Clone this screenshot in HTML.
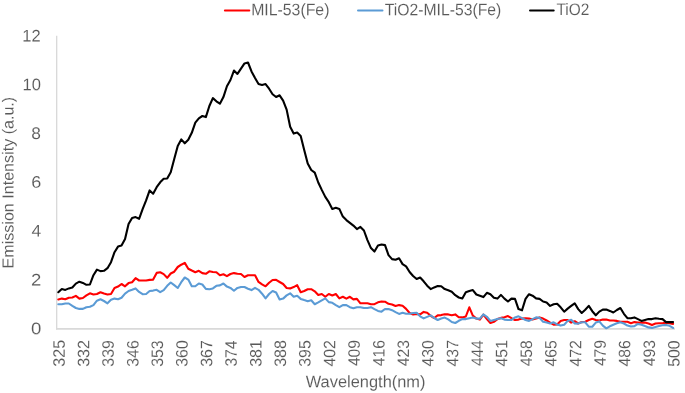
<!DOCTYPE html>
<html><head><meta charset="utf-8"><title>Chart</title>
<style>html,body{margin:0;padding:0;background:#fff;}body{width:685px;height:393px;overflow:hidden;font-family:"Liberation Sans",sans-serif;}svg{display:block;will-change:transform;}text{font-family:"Liberation Sans",sans-serif;fill:#595959;text-rendering:geometricPrecision;stroke:#ffffff;stroke-width:0.1px;}</style></head><body>
<svg width="685" height="393" viewBox="0 0 685 393">
<rect width="685" height="393" fill="#ffffff"/>
<line x1="56.67" y1="35.8" x2="56.67" y2="329.57" stroke="#d9d9d9" stroke-width="1.33"/>
<line x1="56.01" y1="328.85" x2="674.96" y2="328.85" stroke="#d9d9d9" stroke-width="1.6"/>
<text transform="translate(251.13,15.25) rotate(0.03)" font-size="16.6" textLength="78.28" lengthAdjust="spacingAndGlyphs">MIL-53(Fe)</text>
<text transform="translate(384.76,15.25) rotate(0.03)" font-size="16.6" textLength="116.51" lengthAdjust="spacingAndGlyphs">TiO2-MIL-53(Fe)</text>
<text transform="translate(556.50,15.25) rotate(0.03)" font-size="16.6" textLength="32.90" lengthAdjust="spacingAndGlyphs">TiO2</text>
<text transform="translate(305.72,387.15) rotate(0.03)" font-size="16.6" textLength="119.76" lengthAdjust="spacingAndGlyphs">Wavelength(nm)</text>
<text transform="translate(31.09,334.22) rotate(0.03)" font-size="16.8" textLength="10.33" lengthAdjust="spacingAndGlyphs">0</text>
<text transform="translate(30.99,285.42) rotate(0.03)" font-size="16.8" textLength="10.32" lengthAdjust="spacingAndGlyphs">2</text>
<text transform="translate(31.39,236.62) rotate(0.03)" font-size="16.8" textLength="9.70" lengthAdjust="spacingAndGlyphs">4</text>
<text transform="translate(31.30,187.82) rotate(0.03)" font-size="16.8" textLength="10.04" lengthAdjust="spacingAndGlyphs">6</text>
<text transform="translate(31.32,139.02) rotate(0.03)" font-size="16.8" textLength="9.65" lengthAdjust="spacingAndGlyphs">8</text>
<text transform="translate(22.51,90.22) rotate(0.03)" font-size="16.8" textLength="18.41" lengthAdjust="spacingAndGlyphs">10</text>
<text transform="translate(22.26,41.42) rotate(0.03)" font-size="16.8" textLength="18.37" lengthAdjust="spacingAndGlyphs">12</text>
<text transform="translate(64.65,366.65) rotate(-89.97)" font-size="16.6" textLength="26.91" lengthAdjust="spacingAndGlyphs">325</text>
<text transform="translate(89.25,366.87) rotate(-89.97)" font-size="16.6" textLength="26.96" lengthAdjust="spacingAndGlyphs">332</text>
<text transform="translate(113.84,366.64) rotate(-89.97)" font-size="16.6" textLength="26.57" lengthAdjust="spacingAndGlyphs">339</text>
<text transform="translate(138.44,366.81) rotate(-89.97)" font-size="16.6" textLength="26.55" lengthAdjust="spacingAndGlyphs">346</text>
<text transform="translate(163.03,366.80) rotate(-89.97)" font-size="16.6" textLength="26.50" lengthAdjust="spacingAndGlyphs">353</text>
<text transform="translate(187.62,366.81) rotate(-89.97)" font-size="16.6" textLength="26.58" lengthAdjust="spacingAndGlyphs">360</text>
<text transform="translate(212.22,366.87) rotate(-89.97)" font-size="16.6" textLength="26.74" lengthAdjust="spacingAndGlyphs">367</text>
<text transform="translate(236.81,366.62) rotate(-89.97)" font-size="16.6" textLength="26.12" lengthAdjust="spacingAndGlyphs">374</text>
<text transform="translate(261.41,366.82) rotate(-89.97)" font-size="16.6" textLength="26.79" lengthAdjust="spacingAndGlyphs">381</text>
<text transform="translate(286.00,366.81) rotate(-89.97)" font-size="16.6" textLength="26.73" lengthAdjust="spacingAndGlyphs">388</text>
<text transform="translate(310.60,366.81) rotate(-89.97)" font-size="16.6" textLength="26.55" lengthAdjust="spacingAndGlyphs">395</text>
<text transform="translate(335.19,366.43) rotate(-89.97)" font-size="16.6" textLength="26.33" lengthAdjust="spacingAndGlyphs">402</text>
<text transform="translate(359.79,366.08) rotate(-89.97)" font-size="16.6" textLength="26.10" lengthAdjust="spacingAndGlyphs">409</text>
<text transform="translate(384.38,366.35) rotate(-89.97)" font-size="16.6" textLength="26.31" lengthAdjust="spacingAndGlyphs">416</text>
<text transform="translate(408.98,366.30) rotate(-89.97)" font-size="16.6" textLength="26.16" lengthAdjust="spacingAndGlyphs">423</text>
<text transform="translate(433.57,366.42) rotate(-89.97)" font-size="16.6" textLength="26.26" lengthAdjust="spacingAndGlyphs">430</text>
<text transform="translate(458.17,366.43) rotate(-89.97)" font-size="16.6" textLength="26.34" lengthAdjust="spacingAndGlyphs">437</text>
<text transform="translate(482.76,366.11) rotate(-89.97)" font-size="16.6" textLength="25.79" lengthAdjust="spacingAndGlyphs">444</text>
<text transform="translate(507.36,366.44) rotate(-89.97)" font-size="16.6" textLength="26.40" lengthAdjust="spacingAndGlyphs">451</text>
<text transform="translate(531.95,366.30) rotate(-89.97)" font-size="16.6" textLength="26.01" lengthAdjust="spacingAndGlyphs">458</text>
<text transform="translate(556.55,366.48) rotate(-89.97)" font-size="16.6" textLength="26.16" lengthAdjust="spacingAndGlyphs">465</text>
<text transform="translate(581.14,366.43) rotate(-89.97)" font-size="16.6" textLength="26.33" lengthAdjust="spacingAndGlyphs">472</text>
<text transform="translate(605.74,366.08) rotate(-89.97)" font-size="16.6" textLength="26.10" lengthAdjust="spacingAndGlyphs">479</text>
<text transform="translate(630.33,366.43) rotate(-89.97)" font-size="16.6" textLength="26.27" lengthAdjust="spacingAndGlyphs">486</text>
<text transform="translate(654.93,366.30) rotate(-89.97)" font-size="16.6" textLength="26.16" lengthAdjust="spacingAndGlyphs">493</text>
<text transform="translate(679.52,366.83) rotate(-89.97)" font-size="16.6" textLength="26.53" lengthAdjust="spacingAndGlyphs">500</text>
<text transform="translate(13.50,268.47) rotate(-89.97)" font-size="16.0" textLength="171.67" lengthAdjust="spacingAndGlyphs">Emission Intensity (a.u.)</text>
<line x1="224.9" y1="10.45" x2="249.3" y2="10.45" stroke="#ff0000" stroke-width="2" stroke-linecap="round"/>
<line x1="358.0" y1="10.45" x2="382.5" y2="10.45" stroke="#5b9bd5" stroke-width="2" stroke-linecap="round"/>
<line x1="530.0" y1="10.45" x2="553.7" y2="10.45" stroke="#000000" stroke-width="2" stroke-linecap="round"/>
<polyline fill="none" stroke="#ff0000" stroke-width="2.1" stroke-linejoin="round" stroke-linecap="round" points="58.30,299.4 61.81,298.6 65.33,299.3 68.84,297.7 72.35,297.5 75.86,295.9 79.38,298.6 82.89,298.0 86.40,295.4 89.92,293.3 93.43,294.5 96.94,294.0 100.46,292.2 103.97,293.6 107.48,294.5 111.00,294.0 114.51,288.0 118.02,286.6 121.53,284.0 125.05,286.3 128.56,283.1 132.07,282.2 135.59,278.2 139.10,280.5 142.61,280.5 146.12,280.5 149.64,279.9 153.15,279.6 156.66,272.9 160.18,272.3 163.69,274.1 167.20,277.8 170.72,273.5 174.23,271.7 177.74,267.0 181.25,264.7 184.77,262.9 188.28,268.7 191.79,270.5 195.31,272.2 198.82,270.8 202.33,273.1 205.85,273.8 209.36,271.3 212.87,272.0 216.38,272.2 219.90,275.2 223.41,274.3 226.92,276.1 230.44,274.0 233.95,273.1 237.46,273.8 240.98,274.0 244.49,277.0 248.00,275.2 251.51,275.2 255.03,275.2 258.54,281.9 262.05,284.4 265.57,286.3 269.08,282.8 272.59,280.0 276.11,279.9 279.62,282.0 283.13,284.0 286.64,288.0 290.16,288.4 293.67,287.1 297.18,285.2 300.70,292.2 304.21,291.0 307.72,289.2 311.24,289.2 314.75,291.3 318.26,294.9 321.77,294.0 325.29,296.8 328.80,294.0 332.31,295.4 335.83,294.0 339.34,298.4 342.85,296.8 346.37,298.6 349.88,296.8 353.39,299.4 356.91,298.9 360.42,303.3 363.93,303.3 367.44,303.3 370.96,304.2 374.47,304.2 377.98,302.3 381.50,301.5 385.01,301.7 388.52,303.8 392.04,304.5 395.55,306.0 399.06,305.1 402.57,305.8 406.09,308.9 409.60,313.0 413.11,314.5 416.63,313.9 420.14,314.3 423.65,311.9 427.17,312.8 430.68,315.8 434.19,318.0 437.70,315.4 441.22,315.1 444.73,314.2 448.24,314.4 451.76,315.2 455.27,314.4 458.78,317.3 462.30,317.4 465.81,316.5 469.32,307.3 472.83,315.6 476.35,318.6 479.86,319.6 483.37,314.7 486.89,319.1 490.40,323.0 493.91,321.8 497.43,319.1 500.94,317.9 504.45,317.2 507.96,316.1 511.48,318.2 514.99,320.0 518.50,319.6 522.02,318.6 525.53,318.2 529.04,318.6 532.55,319.5 536.07,318.6 539.58,317.4 543.09,318.6 546.61,320.5 550.12,322.6 553.63,324.7 557.15,324.4 560.66,320.9 564.17,320.0 567.68,320.0 571.20,322.6 574.71,321.2 578.22,323.5 581.74,322.1 585.25,321.8 588.76,320.0 592.28,318.8 595.79,320.0 599.30,320.5 602.81,319.6 606.33,319.6 609.84,320.5 613.35,320.5 616.87,320.9 620.38,321.8 623.89,321.8 627.41,321.8 630.92,323.2 634.43,322.1 637.94,322.6 641.46,322.6 644.97,322.6 648.48,323.5 652.00,324.9 655.51,323.5 659.02,323.2 662.54,323.2 666.05,322.6 669.56,323.2 673.07,323.9"/>
<polyline fill="none" stroke="#5b9bd5" stroke-width="2.1" stroke-linejoin="round" stroke-linecap="round" points="58.30,304.2 61.81,304.2 65.33,303.5 68.84,303.5 72.35,305.9 75.86,308.0 79.38,308.9 82.89,308.9 86.40,307.2 89.92,306.8 93.43,305.1 96.94,300.7 100.46,299.3 103.97,301.0 107.48,303.3 111.00,299.8 114.51,298.6 118.02,299.3 121.53,297.7 125.05,293.6 128.56,291.0 132.07,289.8 135.59,288.4 139.10,291.9 142.61,294.2 146.12,294.0 149.64,291.0 153.15,290.6 156.66,289.8 160.18,292.1 163.69,290.1 167.20,285.8 170.72,282.5 174.23,285.2 177.74,288.0 181.25,282.2 184.77,277.5 188.28,279.6 191.79,286.3 195.31,286.3 198.82,283.5 202.33,284.5 205.85,288.9 209.36,289.3 212.87,288.4 216.38,285.8 219.90,285.4 223.41,283.5 226.92,286.6 230.44,287.9 233.95,290.7 237.46,287.9 240.98,287.0 244.49,287.0 248.00,288.7 251.51,290.1 255.03,287.9 258.54,289.8 262.05,293.7 265.57,298.4 269.08,294.0 272.59,291.0 276.11,292.5 279.62,299.5 283.13,298.6 286.64,295.4 290.16,293.3 293.67,296.8 297.18,295.7 300.70,298.9 304.21,300.1 307.72,301.2 311.24,300.3 314.75,304.2 318.26,302.4 321.77,300.3 325.29,298.4 328.80,302.1 332.31,302.8 335.83,305.1 339.34,307.2 342.85,305.1 346.37,305.1 349.88,307.2 353.39,308.2 356.91,307.2 360.42,307.2 363.93,308.0 367.44,308.0 370.96,307.2 374.47,309.1 377.98,310.9 381.50,311.7 385.01,309.0 388.52,309.1 392.04,310.2 395.55,312.1 399.06,313.9 402.57,312.8 406.09,313.7 409.60,313.7 413.11,313.0 416.63,312.8 420.14,316.3 423.65,318.4 427.17,316.9 430.68,315.4 434.19,318.0 437.70,320.0 441.22,318.5 444.73,317.6 448.24,319.4 451.76,322.0 455.27,323.0 458.78,320.8 462.30,319.1 465.81,319.1 469.32,318.2 472.83,317.4 476.35,318.6 479.86,318.6 483.37,314.4 486.89,316.8 490.40,320.9 493.91,320.0 497.43,319.1 500.94,318.2 504.45,319.6 507.96,320.0 511.48,320.0 514.99,317.4 518.50,316.3 522.02,318.2 525.53,320.0 529.04,320.9 532.55,319.1 536.07,317.4 539.58,317.9 543.09,321.8 546.61,322.6 550.12,323.5 553.63,322.3 557.15,324.4 560.66,325.6 564.17,324.7 567.68,320.9 571.20,319.8 574.71,323.5 578.22,323.6 581.74,322.3 585.25,322.3 588.76,326.7 592.28,326.7 595.79,322.6 599.30,321.4 602.81,325.6 606.33,328.3 609.84,326.3 613.35,324.7 616.87,323.3 620.38,322.3 623.89,323.5 627.41,325.6 630.92,326.5 634.43,326.1 637.94,323.9 641.46,324.7 644.97,326.1 648.48,327.4 652.00,327.9 655.51,327.0 659.02,326.1 662.54,325.3 666.05,324.9 669.56,325.8 673.07,327.9"/>
<polyline fill="none" stroke="#000000" stroke-width="2.1" stroke-linejoin="round" stroke-linecap="round" points="58.30,292.2 61.81,289.0 65.33,289.9 68.84,288.4 72.35,287.5 75.86,283.6 79.38,281.7 82.89,282.9 86.40,284.8 89.92,284.5 93.43,275.2 96.94,269.6 100.46,271.1 103.97,270.8 107.48,268.2 111.00,262.2 114.51,252.2 118.02,246.6 121.53,245.6 125.05,239.1 128.56,224.1 132.07,218.0 135.59,217.1 139.10,218.8 142.61,209.2 146.12,200.4 149.64,190.4 153.15,193.7 156.66,187.2 160.18,182.3 163.69,178.8 167.20,178.5 170.72,172.3 174.23,159.1 177.74,145.9 181.25,139.4 184.77,143.3 188.28,139.8 191.79,132.8 195.31,122.7 198.82,118.3 202.33,116.0 205.85,117.1 209.36,106.0 212.87,98.1 216.38,101.3 219.90,103.7 223.41,97.1 226.92,86.3 230.44,80.0 233.95,70.6 237.46,73.9 240.98,68.6 244.49,63.4 248.00,62.5 251.51,71.4 255.03,78.0 258.54,84.0 262.05,85.0 265.57,84.1 269.08,88.7 272.59,94.2 276.11,97.0 279.62,95.3 283.13,100.6 286.64,109.6 290.16,126.8 293.67,133.6 297.18,132.6 300.70,136.1 304.21,150.1 307.72,163.4 311.24,170.0 314.75,172.7 318.26,182.5 321.77,189.9 325.29,196.9 328.80,202.2 332.31,208.9 335.83,207.8 339.34,208.9 342.85,216.6 346.37,220.1 349.88,222.8 353.39,225.6 356.91,229.1 360.42,226.9 363.93,230.5 367.44,240.1 370.96,248.1 374.47,251.6 377.98,245.4 381.50,244.5 385.01,245.1 388.52,255.1 392.04,259.1 395.55,259.8 399.06,258.3 402.57,264.1 406.09,266.4 409.60,272.0 413.11,276.0 416.63,279.0 420.14,277.5 423.65,281.3 427.17,285.7 430.68,289.1 434.19,287.4 437.70,286.1 441.22,286.3 444.73,289.1 448.24,290.3 451.76,291.8 455.27,295.2 458.78,297.5 462.30,298.5 465.81,292.2 469.32,291.0 472.83,290.1 476.35,294.5 479.86,295.7 483.37,297.1 486.89,292.8 490.40,294.2 493.91,297.7 497.43,298.6 500.94,294.9 504.45,298.6 507.96,301.5 511.48,298.6 514.99,298.9 518.50,309.1 522.02,310.3 525.53,298.9 529.04,294.2 532.55,295.7 536.07,298.4 539.58,298.9 543.09,301.5 546.61,302.4 550.12,305.9 553.63,304.2 557.15,303.8 560.66,307.3 564.17,311.7 567.68,308.6 571.20,305.9 574.71,303.3 578.22,309.1 581.74,313.0 585.25,309.8 588.76,305.9 592.28,311.2 595.79,315.3 599.30,311.6 602.81,309.6 606.33,309.5 609.84,310.9 613.35,312.5 616.87,310.0 620.38,308.0 623.89,313.8 627.41,318.2 630.92,318.2 634.43,317.4 637.94,319.1 641.46,320.9 644.97,320.0 648.48,319.1 652.00,319.1 655.51,318.2 659.02,318.8 662.54,319.1 666.05,322.1 669.56,322.1 673.07,322.1"/>
</svg></body></html>
